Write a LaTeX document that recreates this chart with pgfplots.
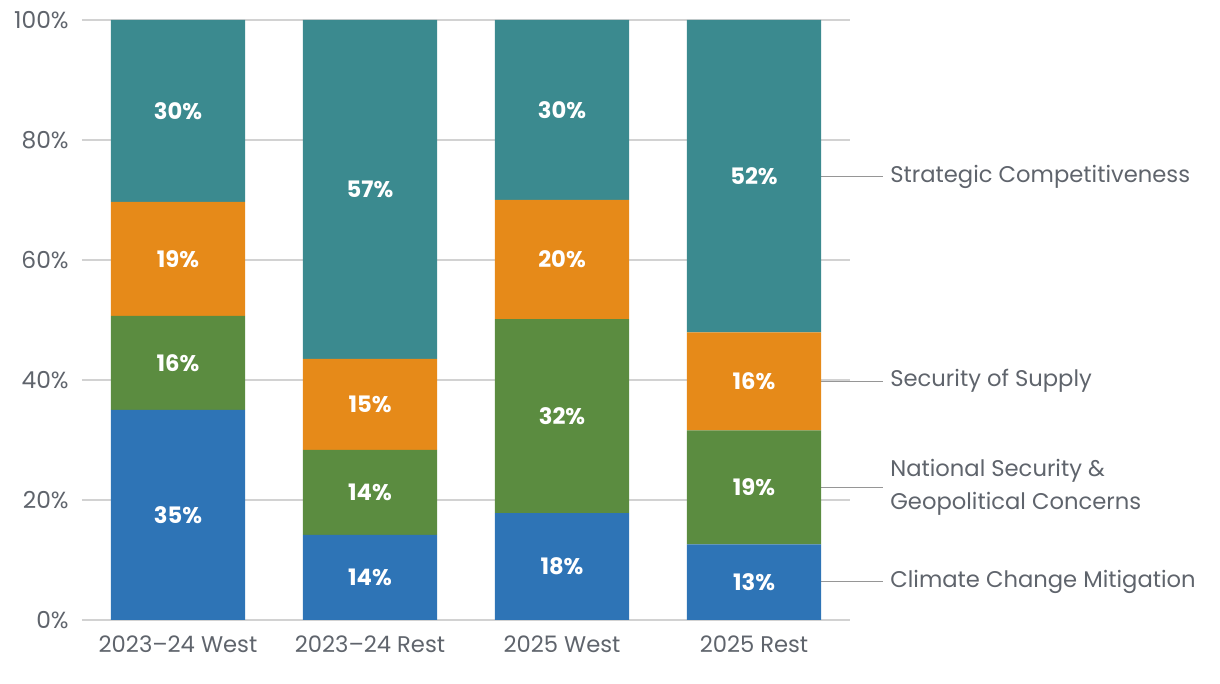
\documentclass[border=0pt]{standalone}
\usepackage{pgfplots}
\pgfplotsset{compat=1.18}
\usepackage{fontspec}
\setmainfont{Poppins}

\definecolor{cBlue}{RGB}{46,116,182}
\definecolor{cGreen}{RGB}{91,140,64}
\definecolor{cOrange}{RGB}{230,138,25}
\definecolor{cTeal}{RGB}{59,138,143}
\definecolor{txtgray}{RGB}{95,100,108}
\definecolor{linegray}{RGB}{150,150,150}
\definecolor{gridgray}{RGB}{210,210,210}

\tikzset{sidelab/.style={anchor=west, inner sep=0pt, xshift=5pt, text=txtgray,
        font=\fontsize{17}{24.5}\selectfont, align=left}}
\pgfplotsset{same box/.style={at={(61.5pt,48pt)}, anchor=south west,
    scale only axis, width=576pt, height=450pt,
    xmin=-0.5, xmax=3.5, ymin=0, ymax=100, clip=false}}

\begin{document}
\begin{tikzpicture}
\useasboundingbox (0,0) rectangle (915pt,513pt);
\begin{axis}[
    same box,
    ybar stacked, bar width=0.7,
    xtick={0,1,2,3},
    xticklabels={2023--24 West, 2023--24 Rest, 2025 West, 2025 Rest},
    ytick={0,20,40,60,80,100},
    yticklabel={\pgfmathprintnumber{\tick}\%},
    /pgf/number format/assume math mode=true,
    ticklabel style={font=\fontsize{17}{20}\selectfont, text=txtgray},
    xticklabel style={yshift=-8.5pt},
    yticklabel style={xshift=-6.5pt, font=\fontsize{17.5}{20}\selectfont},
    major tick length=0pt,
    axis line style={draw=none},
    ymajorgrids, grid style={gridgray, line width=1.2pt},
]
% Climate Change Mitigation
\addplot[fill=cBlue, draw=none] coordinates {(0,35.0) (1,14.17) (2,17.83) (3,12.6)};
% National Security & Geopolitical Concerns
\addplot[fill=cGreen, draw=none] coordinates {(0,15.67) (1,14.17) (2,32.33) (3,19.0)};
% Security of Supply
\addplot[fill=cOrange, draw=none] coordinates {(0,19.0) (1,15.17) (2,19.84) (3,16.33)};
% Strategic Competitiveness
\addplot[fill=cTeal, draw=none] coordinates {(0,30.33) (1,56.49) (2,30.0) (3,52.07)};

\draw[linegray, line width=1pt] (axis cs:3.35,73.9) -- (axis cs:3.672,73.9) node[sidelab] {Strategic Competitiveness};
\draw[linegray, line width=1pt] (axis cs:3.35,39.8) -- (axis cs:3.672,39.8) node[sidelab] {Security of Supply};
\draw[linegray, line width=1pt] (axis cs:3.35,22.1) -- (axis cs:3.672,22.1) node[sidelab] {National Security \&\\Geopolitical Concerns};
\draw[linegray, line width=1pt] (axis cs:3.35,6.4) -- (axis cs:3.672,6.4) node[sidelab] {Climate Change Mitigation};
\end{axis}
% segment labels, at the middle of each segment
\begin{axis}[
    same box, hide axis,
    point meta=explicit symbolic,
    nodes near coords={\pgfplotspointmeta\%},
    every node near coord/.append style={font=\bfseries\fontsize{17}{20}\selectfont,
        text=white, anchor=center},
]
\addplot[only marks, mark=none] coordinates {
    (0,17.5) [35] (0,42.84) [16] (0,60.17) [19] (0,84.83) [30]
    (1,7.09) [14] (1,21.26) [14] (1,35.93) [15] (1,71.76) [57]
    (2,8.92) [18] (2,34.0) [32] (2,60.08) [20] (2,85.0) [30]
    (3,6.3) [13] (3,22.1) [19] (3,39.77) [16] (3,73.97) [52]
};
\end{axis}
\end{tikzpicture}
\end{document}
